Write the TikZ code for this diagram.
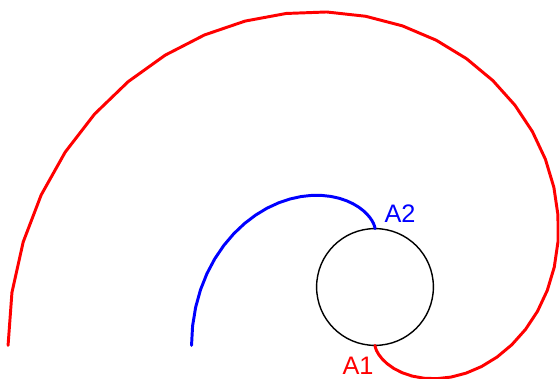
\documentclass[tikz,border=0pt]{standalone}
\usepackage{fontspec}
\setmainfont{Liberation Sans}
\begin{document}
\begin{tikzpicture}[font=\fontsize{18}{20}\selectfont, line join=round, line cap=round, scale=1]
		\useasboundingbox (0,0) rectangle (14,9.475);
		\def\rad{1.46}
		\coordinate (O) at (9.375,2.3);
		\node[draw, circle, minimum size=2.92cm, inner sep=0pt, line width=1pt] (base) at (O) {};
		\begin{scope}[shift={(O)}]
			\draw[red, line width=2.1pt, samples=44, domain=0:2*pi, variable=\t] plot ({\rad*(cos(\t r-90)+\t*sin(\t r-90))},{\rad*(sin(\t r-90)-\t*cos(\t r-90))});
			\draw[blue, line width=2.1pt, samples=30, domain=0:pi, variable=\t] plot ({\rad*(cos(\t r+90)+\t*sin(\t r+90))},{\rad*(sin(\t r+90)-\t*cos(\t r+90))});
		\end{scope}
		\path
		node[blue] (A2) at (10.0,4.125) {A2}
		node[red] (A1) at (8.95,0.33) {A1};
	\end{tikzpicture}
\end{document}
